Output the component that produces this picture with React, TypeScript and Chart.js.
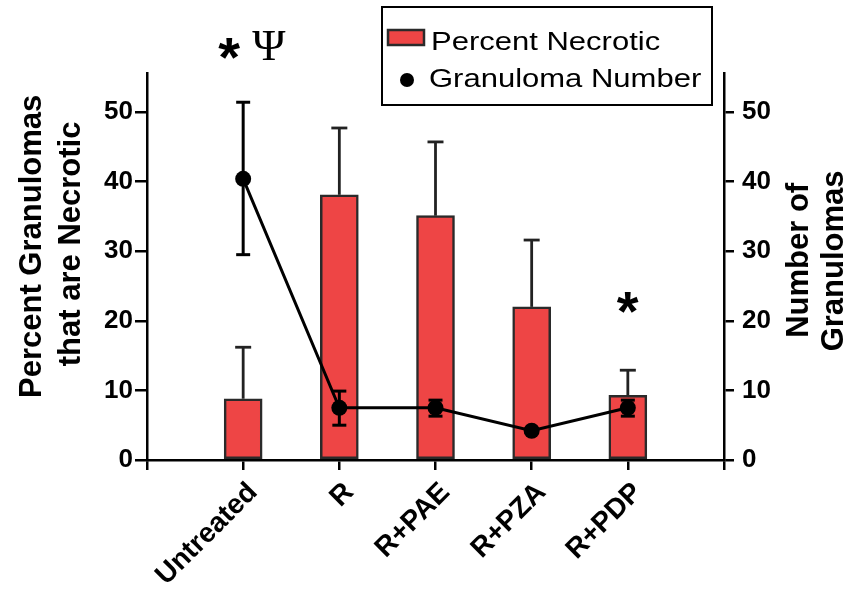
import React, { useEffect, useRef } from 'react';
import { Chart, registerables } from 'chart.js';

Chart.register(...registerables);

// ---- data ----
const categories = ['Untreated', 'R', 'R+PAE', 'R+PZA', 'R+PDP'];
const percentNecrotic = [8.8, 38.1, 35.1, 22.0, 9.3];
const percentNecroticErrHigh = [16.2, 47.7, 45.7, 31.6, 12.9];
const granulomaNumber = [40.4, 7.5, 7.5, 4.2, 7.5];
const granulomaErrLow = [29.5, 5.0, 6.3, 4.0, 6.3];
const granulomaErrHigh = [51.4, 9.9, 8.6, 4.4, 8.6];
const yTicks = [0, 10, 20, 30, 40, 50];
const yMax = 55.6;
const leftTitle = ['Percent Granulomas', 'that are Necrotic'];
const rightTitle = ['Number of', 'Granulomas'];
const annotations = [
  { category: 'Untreated', text: '*', value: 59.05, dx: -14, serif: false },
  { category: 'Untreated', text: 'Ψ', value: 59.6, dx: 26, serif: true },
  { category: 'R+PDP', text: '*', value: 22.6, dx: 0, serif: false },
];

const SANS = '"Liberation Sans", Arial, sans-serif';
const SERIF = '"Liberation Serif", "Times New Roman", serif';
const RED = '#EE4545';
const BAR_BORDER = '#2a2a2a';

function drawCentered(ctx: CanvasRenderingContext2D, text: string, cx: number, cy: number, font: string, angle = 0) {
  ctx.save();
  ctx.font = font;
  ctx.textAlign = 'left';
  ctx.textBaseline = 'alphabetic';
  const m = ctx.measureText(text);
  const x0 = -(m.actualBoundingBoxRight - m.actualBoundingBoxLeft) / 2;
  const y0 = (m.actualBoundingBoxAscent - m.actualBoundingBoxDescent) / 2;
  ctx.translate(cx, cy);
  ctx.rotate(angle);
  ctx.fillStyle = '#000';
  ctx.fillText(text, x0, y0);
  ctx.restore();
}

const overlayPlugin = {
  id: 'overlay',
  afterDatasetsDraw(chart: any) {
    const ctx: CanvasRenderingContext2D = chart.ctx;
    const xs = chart.scales.x;
    const ys = chart.scales.y;
    const y1 = chart.scales.y1;
    const seg = (a: number, b: number, c: number, d: number) => {
      ctx.beginPath();
      ctx.moveTo(a, b);
      ctx.lineTo(c, d);
      ctx.stroke();
    };
    ctx.save();
    ctx.strokeStyle = '#222';
    ctx.lineWidth = 2.8;
    categories.forEach((_, i) => {
      const px = xs.getPixelForValue(i + 1);
      const top = ys.getPixelForValue(percentNecrotic[i]);
      const hi = ys.getPixelForValue(percentNecroticErrHigh[i]);
      seg(px, top, px, hi);
      seg(px - 8, hi, px + 8, hi);
    });
    ctx.strokeStyle = '#000';
    ctx.lineWidth = 3;
    categories.forEach((_, i) => {
      const px = xs.getPixelForValue(i + 1);
      const lo = y1.getPixelForValue(granulomaErrLow[i]);
      const hi = y1.getPixelForValue(granulomaErrHigh[i]);
      seg(px, lo, px, hi);
      seg(px - 7, lo, px + 7, lo);
      seg(px - 7, hi, px + 7, hi);
    });
    ctx.restore();
  },
  afterDraw(chart: any) {
    const ctx: CanvasRenderingContext2D = chart.ctx;
    const xs = chart.scales.x;
    const ys = chart.scales.y;
    const area = chart.chartArea;

    // x labels
    ctx.save();
    ctx.fillStyle = '#000';
    ctx.font = `bold 28px ${SANS}`;
    ctx.textAlign = 'right';
    ctx.textBaseline = 'middle';
    categories.forEach((c, i) => {
      const px = xs.getPixelForValue(i + 1);
      ctx.save();
      ctx.translate(px + 10, area.bottom + 28);
      ctx.rotate(-Math.PI / 4);
      ctx.fillText(c, 0, 0);
      ctx.restore();
    });
    ctx.restore();

    // axis titles
    const tf = `bold 31px ${SANS}`;
    drawCentered(ctx, leftTitle[0], 29, 246, tf, -Math.PI / 2);
    drawCentered(ctx, leftTitle[1], 68, 244, tf, -Math.PI / 2);
    drawCentered(ctx, rightTitle[0], 796, 259, tf, -Math.PI / 2);
    drawCentered(ctx, rightTitle[1], 831, 261, tf, -Math.PI / 2);

    // annotations
    annotations.forEach((a) => {
      const idx = categories.indexOf(a.category) + 1;
      const px = xs.getPixelForValue(idx) + a.dx;
      const py = ys.getPixelForValue(a.value);
      const font = a.serif ? `45px ${SERIF}` : `bold 56px ${SANS}`;
      drawCentered(ctx, a.text, px, py, font);
    });

    // legend
    const ds = chart.data.datasets;
    ctx.save();
    ctx.strokeStyle = '#000';
    ctx.lineWidth = 2;
    ctx.strokeRect(382, 7, 330, 98);
    ctx.fillStyle = ds[0].backgroundColor;
    ctx.fillRect(388, 30, 36, 15);
    ctx.strokeStyle = BAR_BORDER;
    ctx.lineWidth = 2.5;
    ctx.strokeRect(388, 30, 36, 15);
    ctx.fillStyle = '#000';
    ctx.beginPath();
    ctx.arc(407, 80, 7, 0, Math.PI * 2);
    ctx.fill();
    ctx.font = `25px ${SANS}`;
    ctx.textAlign = 'left';
    ctx.textBaseline = 'alphabetic';
    ctx.save();
    ctx.translate(431, 49.5);
    ctx.scale(1.24, 1);
    ctx.fillText(ds[0].label, 0, 0);
    ctx.restore();
    ctx.save();
    ctx.translate(429, 87);
    ctx.scale(1.24, 1);
    ctx.fillText(ds[1].label, 0, 0);
    ctx.restore();
    ctx.restore();
  },
};

export default function App() {
  const ref = useRef<HTMLCanvasElement | null>(null);
  useEffect(() => {
    if (!ref.current) return;
    const labels = ['', ...categories, ''];
    const tickFont = { family: SANS, size: 26, weight: 'bold' as const };
    const chart = new Chart(ref.current, {
      type: 'bar',
      data: {
        labels,
        datasets: [
          {
            type: 'bar',
            label: 'Percent Necrotic',
            data: [null, ...percentNecrotic, null],
            backgroundColor: RED,
            borderColor: BAR_BORDER,
            borderWidth: 2.5,
            borderSkipped: false,
            barThickness: 38,
            yAxisID: 'y',
            order: 2,
          } as any,
          {
            type: 'line',
            label: 'Granuloma Number',
            data: [null, ...granulomaNumber, null],
            borderColor: '#000',
            borderWidth: 3,
            pointRadius: 8,
            pointBackgroundColor: '#000',
            pointBorderColor: '#000',
            pointBorderWidth: 0,
            tension: 0,
            yAxisID: 'y1',
            order: 1,
          } as any,
        ],
      },
      options: {
        animation: false,
        responsive: true,
        maintainAspectRatio: false,
        events: [],
        layout: { padding: { top: 73, left: 0, right: 0, bottom: 0 } },
        plugins: { legend: { display: false }, tooltip: { enabled: false } },
        scales: {
          x: {
            type: 'category',
            offset: false,
            grid: { offset: false, drawOnChartArea: false, drawTicks: true, tickLength: 10, color: '#000', lineWidth: 2.5 },
            border: { display: true, color: '#000', width: 2.5 },
            ticks: { display: false },
            afterFit: (s: any) => { s.height = 130; },
          },
          y: {
            type: 'linear',
            position: 'left',
            min: 0,
            max: yMax,
            afterBuildTicks: (s: any) => { s.ticks = yTicks.map((v) => ({ value: v })); },
            grid: { drawOnChartArea: false, tickLength: 12, color: '#000', lineWidth: 2.5 },
            border: { display: true, color: '#000', width: 2.5 },
            ticks: { color: '#000', font: tickFont, padding: 2 },
            afterFit: (s: any) => { s.width = 147; },
          },
          y1: {
            type: 'linear',
            position: 'right',
            min: 0,
            max: yMax,
            afterBuildTicks: (s: any) => { s.ticks = yTicks.map((v) => ({ value: v })); },
            grid: { drawOnChartArea: false, tickLength: 10, color: '#000', lineWidth: 2.5 },
            border: { display: true, color: '#000', width: 2.5 },
            ticks: { color: '#000', font: tickFont, padding: 8 },
            afterFit: (s: any) => { s.width = 126; },
          },
        },
      } as any,
      plugins: [overlayPlugin],
    });
    return () => chart.destroy();
  }, []);
  return (
    <div style={{ position: 'fixed', left: 0, top: 0, width: 850, height: 590, background: '#fff' }}>
      <canvas ref={ref} />
    </div>
  );
}
